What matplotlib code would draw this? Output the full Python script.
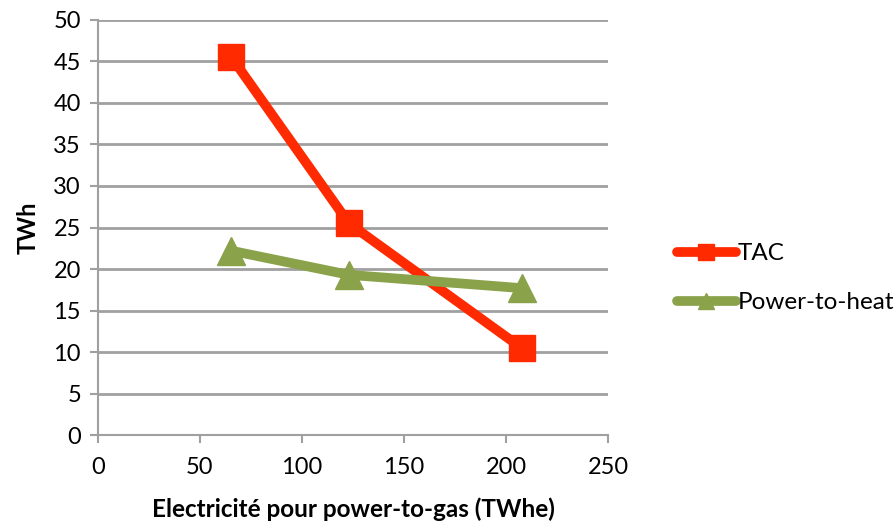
import matplotlib
matplotlib.use("Agg")
import matplotlib.pyplot as plt
from matplotlib.lines import Line2D

plt.rcParams['font.family'] = ['Lato', 'DejaVu Sans']

# data
elec = [65.5, 123, 207.5]
tac = [45.5, 25.5, 10.5]
p2h = [22.2, 19.3, 17.7]

xticks = [0, 50, 100, 150, 200, 250]
yticks = [0, 5, 10, 15, 20, 25, 30, 35, 40, 45, 50]

red = '#ff2a00'
green = '#8aa24a'
grey = '#a0a0a0'

fig = plt.figure(figsize=(8.96, 5.23), dpi=100)
ax = fig.add_axes([0.109, 0.168, 0.570, 0.794])

ax.plot(elec, tac, color=red, lw=7, marker='s', ms=19, mec=red, mfc=red,
        solid_capstyle='butt', zorder=3)
ax.plot(elec, p2h, color=green, lw=7, marker='^', ms=20, mec=green, mfc=green,
        solid_capstyle='butt', zorder=3)

ax.set_xlim(0, 250)
ax.set_ylim(0, 50)
ax.set_xticks(xticks)
ax.set_yticks(yticks)
ax.yaxis.grid(True, color=grey, lw=2)
ax.set_axisbelow(True)
for s in ['top', 'right']:
    ax.spines[s].set_visible(False)
for s in ['left', 'bottom']:
    ax.spines[s].set_color(grey)
    ax.spines[s].set_linewidth(1.5)
ax.tick_params(axis='both', colors=grey, length=6, width=1.5, labelsize=17,
               labelcolor='black')
ax.tick_params(axis='x', pad=10)
ax.tick_params(axis='y', pad=6)

ax.set_xlabel('Electricité pour power-to-gas (TWhe)', fontsize=17.5,
              fontweight='bold', labelpad=14)
ax.set_ylabel('TWh', fontsize=17, fontweight='bold', labelpad=10)

handles = [
    Line2D([0], [0], color=red, lw=7, marker='s', ms=12, solid_capstyle='round'),
    Line2D([0], [0], color=green, lw=7, marker='^', ms=12, solid_capstyle='round'),
]
fig.legend(handles, ['TAC', 'Power-to-heat'], loc='center left',
           bbox_to_anchor=(0.745, 0.468), frameon=False, fontsize=17.5,
           handlelength=2.4, handletextpad=0.1, labelspacing=1.15,
           borderaxespad=0)

fig.savefig('out.png', dpi=100)
